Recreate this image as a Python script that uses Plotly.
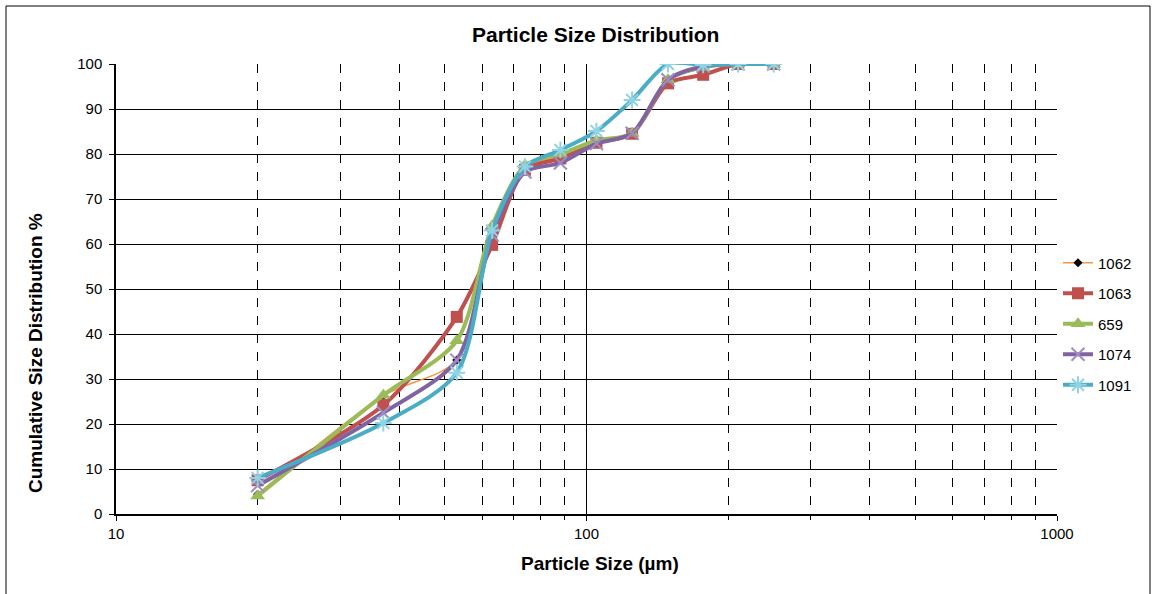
import plotly.graph_objects as go

# Particle sizes (µm)
sizes = [20, 37, 53, 63, 74, 88, 105, 125, 149, 177, 210, 250]

s1062 = [4.4, 26.3, 34.2, 62.0, 77.0, 79.5, 82.5, 84.5, 96.5, 99.0, 100.0, 100.0]
s1063 = [7.5, 24.2, 43.8, 59.8, 76.5, 79.0, 82.5, 84.5, 95.7, 97.6, 100.0, 100.0]
s659 = [4.0, 26.4, 38.5, 64.0, 77.5, 80.0, 83.0, 84.6, 96.5, 99.3, 100.0, 100.0]
s1074 = [6.3, 22.5, 34.2, 62.0, 76.0, 78.0, 82.3, 84.6, 96.5, 99.5, 100.0, 100.0]
s1091 = [8.0, 20.2, 31.4, 63.0, 77.2, 80.9, 85.1, 92.0, 100.0, 99.8, 100.0, 100.0]

names = ["1062", "1063", "659", "1074", "1091"]
series = [s1062, s1063, s659, s1074, s1091]
colors = ["#F79646", "#C0504D", "#9BBB59", "#8064A2", "#4BACC6"]
widths = [1.5, 4, 4, 4, 4]
markers = [
    dict(symbol="diamond", size=7, color="black"),
    dict(symbol="square", size=12, color="#C0504D"),
    dict(symbol="triangle-up", size=13, color="#9BBB59"),
    dict(symbol="x-thin", size=13, line=dict(color="#A08CC0", width=2)),
    dict(symbol="asterisk", size=14, line=dict(color="#8FD3E5", width=2)),
]

FONT = "Arial, Liberation Sans, sans-serif"

fig = go.Figure()
for n, s, c, w, m in zip(names, series, colors, widths, markers):
    fig.add_trace(go.Scatter(
        x=sizes, y=s, name=n, mode="lines+markers",
        line=dict(color=c, width=w, shape="spline", smoothing=0.8),
        marker=m, legendgroup=n,
    ))

minor_vals = [20, 30, 40, 50, 60, 70, 80, 90, 200, 300, 400, 500, 600, 700, 800, 900]

L, T, W, H = 116, 64, 941, 450


def px(x):
    return (x - L) / W


def py(y):
    return (T + H - y) / H


fig.update_layout(
    width=1154, height=594,
    margin=dict(l=116, r=97, t=64, b=80),
    paper_bgcolor="white", plot_bgcolor="white",
    font=dict(family=FONT, size=15, color="black"),
    showlegend=True,
    legend=dict(x=px(1058), xanchor="left", y=py(324), yanchor="middle",
                font=dict(size=15), tracegroupgap=8, bgcolor="rgba(0,0,0,0)",
                itemwidth=30),
    xaxis=dict(
        type="log", range=[1, 3], tickvals=[10, 100, 1000], ticktext=["10", "100", "1000"],
        showgrid=True, gridcolor="black", gridwidth=1,
        showline=True, linecolor="black", linewidth=1.5,
        ticks="outside", ticklen=5, tickcolor="black",
        tickfont=dict(size=15),
        minor=dict(tickvals=minor_vals, showgrid=True, gridcolor="black",
                   griddash="dash", gridwidth=1, ticks="outside", ticklen=4,
                   tickcolor="black"),
        zeroline=False,
    ),
    yaxis=dict(
        range=[0, 100], dtick=10,
        showgrid=True, gridcolor="black", gridwidth=1,
        showline=True, linecolor="black", linewidth=1.5,
        ticks="outside", ticklen=5, tickcolor="black",
        tickfont=dict(size=15), ticklabelstandoff=4,
        zeroline=False,
    ),
    annotations=[
        dict(text="<b>Particle Size Distribution</b>", xref="paper", yref="paper",
             x=px(595), y=py(35), xanchor="center", yanchor="middle",
             showarrow=False, font=dict(size=21)),
        dict(text="<b>Particle Size (µm)</b>", xref="paper", yref="paper",
             x=px(600), y=py(563), xanchor="center", yanchor="middle",
             showarrow=False, font=dict(size=19)),
        dict(text="<b>Cumulative Size Distribution %</b>", xref="paper", yref="paper",
             x=px(35), y=py(353), xanchor="center", yanchor="middle", textangle=-90,
             showarrow=False, font=dict(size=19)),
    ],
    shapes=[dict(type="rect", xref="paper", yref="paper",
                 x0=px(6), x1=px(1150),
                 y0=py(610), y1=py(6),
                 line=dict(color="black", width=1), layer="below")],
)

fig.write_html("out.html")
